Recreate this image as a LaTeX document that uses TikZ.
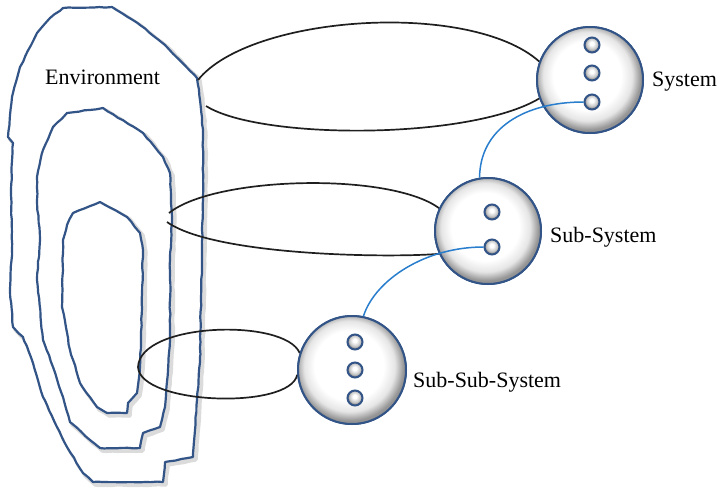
\documentclass[tikz,border=0pt]{standalone}
\usepackage{fontspec}
\setmainfont{Liberation Serif}
\usetikzlibrary{decorations.pathmorphing}
\definecolor{edgeblue}{RGB}{50,84,135}
\definecolor{linkblue}{RGB}{40,125,205}
% disc: white face, grey rim
\pgfdeclareradialshading{discshade}{\pgfpoint{-2bp}{3bp}}{%
  color(0bp)=(white); color(16bp)=(white); color(21bp)=(black!10);
  color(25bp)=(black!42); color(50bp)=(black!42)}
% element: small glossy bead
\pgfdeclareradialshading{beadshade}{\pgfpoint{-1bp}{6bp}}{%
  color(0bp)=(white); color(6bp)=(white); color(18bp)=(black!22);
  color(25bp)=(black!50); color(50bp)=(black!50)}
\tikzset{
  blobline/.style={draw=edgeblue, line width=2.2pt, fill=white, line join=round,
    decorate, decoration={random steps, segment length=6pt, amplitude=0.45pt}},
  blobshadow/.style={draw=black!40, line width=4.5pt, opacity=0.35, line join=round,
    decorate, decoration={random steps, segment length=6pt, amplitude=0.45pt}},
  loopline/.style={draw=black!88, line width=1.7pt},
  linkline/.style={draw=linkblue, line width=1.5pt},
  sysdisc/.style={circle, draw=edgeblue, line width=2pt, minimum size=#1,
    inner sep=0pt, shading=discshade},
  ballnode/.style={circle, draw=edgeblue, line width=2pt, minimum size=15pt,
    inner sep=0pt, shading=beadshade},
  lbl/.style={font=\fontsize{22}{26}\selectfont, inner sep=0pt, anchor=west}
}
\newcommand{\outerblob}{(37,33) -- (50,18) -- (63,8) -- (112,7) -- (140,25) -- (165,45) -- (197,78) -- (200,100) -- (203,133) -- (203,200) -- (202,250) -- (201,300) -- (200,357) -- (197,400) -- (195,430) -- (193,457) -- (165,462) -- (163,482) -- (93,482) -- (83,473) -- (67,447) -- (57,427) -- (43,397) -- (33,363) -- (23,337) -- (13,327) -- (10,290) -- (12,250) -- (11,190) -- (13,143) -- (8,137) -- (10,115) -- (13,93) -- (20,67) -- cycle}
\newcommand{\middleblob}{(53,127) -- (67,113) -- (103,108) -- (143,133) -- (163,157) -- (170,173) -- (172,217) -- (170,260) -- (170,340) -- (165,407) -- (160,427) -- (143,433) -- (140,448) -- (100,448) -- (90,440) -- (70,422) -- (63,397) -- (53,367) -- (43,340) -- (37,280) -- (40,240) -- (37,200) -- (37,177) -- (43,150) -- cycle}
\newcommand{\innerblob}{(73,213) -- (100,202) -- (127,217) -- (140,233) -- (143,250) -- (142,307) -- (140,367) -- (137,393) -- (128,403) -- (127,413) -- (107,413) -- (97,407) -- (80,383) -- (70,350) -- (62,307) -- (63,240) -- (67,225) -- cycle}
\begin{document}
\begin{tikzpicture}[x=1pt, y=-1pt]
\pgfmathsetseed{7}
\useasboundingbox (0,0) rectangle (717,488);

% nested environment outlines with soft drop shadows
\foreach \blob in {\outerblob, \middleblob, \innerblob}{
  \begin{scope}[shift={(2.5,2.5)}]
    \path[blobshadow] \blob;
  \end{scope}
  \path[blobline] \blob;
}

% where the loops leave each environment layer
\coordinate (e1t) at (198,80);
\coordinate (e1b) at (206,106);
\coordinate (e2t) at (169,213);
\coordinate (e2b) at (167,222);
\coordinate (e3) at (138,367);

% system discs
\node[sysdisc=106pt] (sys) at (590,80) {};
\node[sysdisc=106pt] (sub) at (488,231) {};
\node[sysdisc=108pt] (subsub) at (352,370) {};

% loops joining each layer to its system
\draw[loopline] (e1t) .. controls (250,15) and (470,0) .. (sys.160);
\draw[loopline] (e1b) .. controls (260,140) and (470,140) .. (sys.200);
\draw[loopline] (e2t) .. controls (215,176) and (390,172) .. (sub.155);
\draw[loopline] (e2b) .. controls (215,256) and (390,258) .. (sub.205);
\draw[loopline] (e3) .. controls (140,322) and (285,318) .. (subsub.162);
\draw[loopline] (e3) .. controls (140,405) and (290,410) .. (subsub.185);

% redraw the discs over the loop ends
\node[sysdisc=106pt] at (sys) {};
\node[sysdisc=106pt] at (sub) {};
\node[sysdisc=108pt] at (subsub) {};

% elements inside each disc
\node[ballnode] (s1) at (592,45) {};
\node[ballnode] (s2) at (592,73) {};
\node[ballnode] (s3) at (592,102) {};
\node[ballnode] (u1) at (492,212) {};
\node[ballnode] (u2) at (492,247) {};
\node[ballnode] (w1) at (355,342) {};
\node[ballnode] (w2) at (355,370) {};
\node[ballnode] (w3) at (355,398) {};

% links between levels
\draw[linkline] (s3.west) .. controls (525,102) and (480,128) .. (sub.99);
\draw[linkline] (u2.west) .. controls (425,247) and (375,280) .. (subsub.78);

% labels
\node[lbl] (envlbl) at (45,77) {Environment};
\node[lbl] (syslbl) at (652,82) {System};
\node[lbl] (sublbl) at (550,237) {Sub-System};
\node[lbl] (subsublbl) at (413,382) {Sub-Sub-System};
\end{tikzpicture}
\end{document}
